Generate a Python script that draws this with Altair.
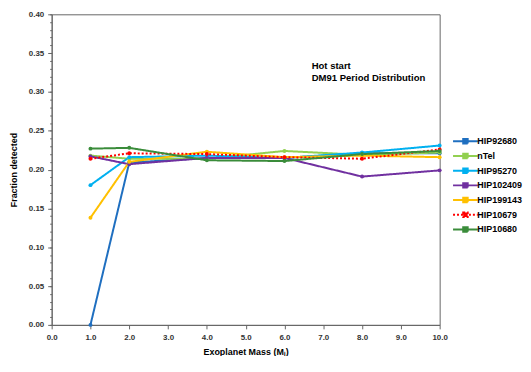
import altair as alt
import pandas as pd

masses = [1.0, 2.0, 4.0, 6.0, 8.0, 10.0]
series_names = ["HIP92680", "nTel", "HIP95270", "HIP102409", "HIP199143", "HIP10679", "HIP10680"]
hip92680 = [0.000, 0.209, 0.215, 0.215, 0.221, 0.221]
ntel = [0.218, 0.214, 0.214, 0.224, 0.219, 0.222]
hip95270 = [0.180, 0.216, 0.218, 0.215, 0.222, 0.231]
hip102409 = [0.217, 0.207, 0.215, 0.215, 0.191, 0.199]
hip199143 = [0.138, 0.210, 0.223, 0.216, 0.218, 0.216]
hip10679 = [0.214, 0.221, 0.220, 0.216, 0.214, 0.226]
hip10680 = [0.227, 0.228, 0.212, 0.211, 0.220, 0.224]
colors = ["#1F6FC0", "#92D050", "#00B0F0", "#7030A0", "#FFC000", "#FF0000", "#3A8C3A"]
dashes = [[1, 0], [1, 0], [1, 0], [1, 0], [1, 0], [2, 2], [1, 0]]
x_ticks = [0, 1, 2, 3, 4, 5, 6, 7, 8, 9, 10]
y_ticks = [0.0, 0.05, 0.10, 0.15, 0.20, 0.25, 0.30, 0.35, 0.40]
y_minor = [round(i * 0.01, 2) for i in range(41)]
note_lines = ["Hot start", "DM91 Period Distribution"]

all_vals = [hip92680, ntel, hip95270, hip102409, hip199143, hip10679, hip10680]
rows = []
for name, vals in zip(series_names, all_vals):
    for m, v in zip(masses, vals):
        rows.append({"series": name, "mass": m, "value": v})
df = pd.DataFrame(rows)

FONT = "Liberation Sans"

legend = alt.Legend(
    title=None, orient="none", legendX=411, legendY=122,
    labelFont=FONT, labelFontSize=9, labelFontWeight="bold", labelColor="#000",
    symbolType="M-2.5,0H2.5M-0.45,-0.45H0.45V0.45H-0.45Z", symbolSize=100,
    symbolStrokeWidth=2, rowPadding=0.8, labelOffset=6,
)

x_scale = alt.Scale(domain=[0, 10], nice=False)
y_scale = alt.Scale(domain=[0, 0.4], nice=False)
x_enc = alt.X("mass:Q", scale=x_scale,
              axis=alt.Axis(values=x_ticks, format=".1f", title="Exoplanet Mass (Mⱼ)",
                            grid=False, ticks=True, tickSize=4, tickWidth=1, labelFlush=False,
                            labelPadding=5, titlePadding=6))

lines = alt.Chart(df).mark_line(strokeWidth=2, point=alt.OverlayMarkDef(filled=True, size=16, opacity=1)).encode(
    x=x_enc,
    y=alt.Y("value:Q", scale=y_scale,
            axis=alt.Axis(values=y_ticks, format=".2f", title="Fraction detected",
                          grid=False, ticks=True, tickSize=4, tickWidth=1, labelFlush=False,
                          labelPadding=4, titlePadding=10, orient="left")),
    color=alt.Color("series:N", scale=alt.Scale(domain=series_names, range=colors), legend=legend),
    strokeDash=alt.StrokeDash("series:N", scale=alt.Scale(domain=series_names, range=dashes), legend=legend),
    order=alt.Order("mass:Q"),
)

minor = alt.Chart(df).mark_point(opacity=0).encode(
    x=x_enc,
    y=alt.Y("value:Q", scale=y_scale,
            axis=alt.Axis(values=y_minor, labels=False, domain=False, ticks=True,
                          tickSize=2, tickWidth=1, title=None, grid=False, orient="left")),
)

note = alt.Chart(pd.DataFrame({"t": [0]})).mark_text(
    text=note_lines, align="left", baseline="top", font=FONT, fontSize=9.6,
    fontWeight="bold", color="#000", lineHeight=12,
).encode(x=alt.value(262), y=alt.value(47))

chart = alt.layer(lines, minor, note).resolve_axis(y="independent").properties(
    width=391, height=313, autosize=alt.AutoSizeParams(type="none"),
    padding={"left": 44, "top": 5, "right": 84, "bottom": 30},
).configure_view(stroke="#666", strokeWidth=1).configure_axis(
    domainColor="#666", tickColor="#666", labelFont=FONT, labelFontSize=8,
    labelFontWeight="bold", labelColor="#333", titleFont=FONT, titleFontSize=9,
    titleFontWeight="bold", titleColor="#000",
)

chart.save("out.html", embed_options={"renderer": "svg", "actions": False})
